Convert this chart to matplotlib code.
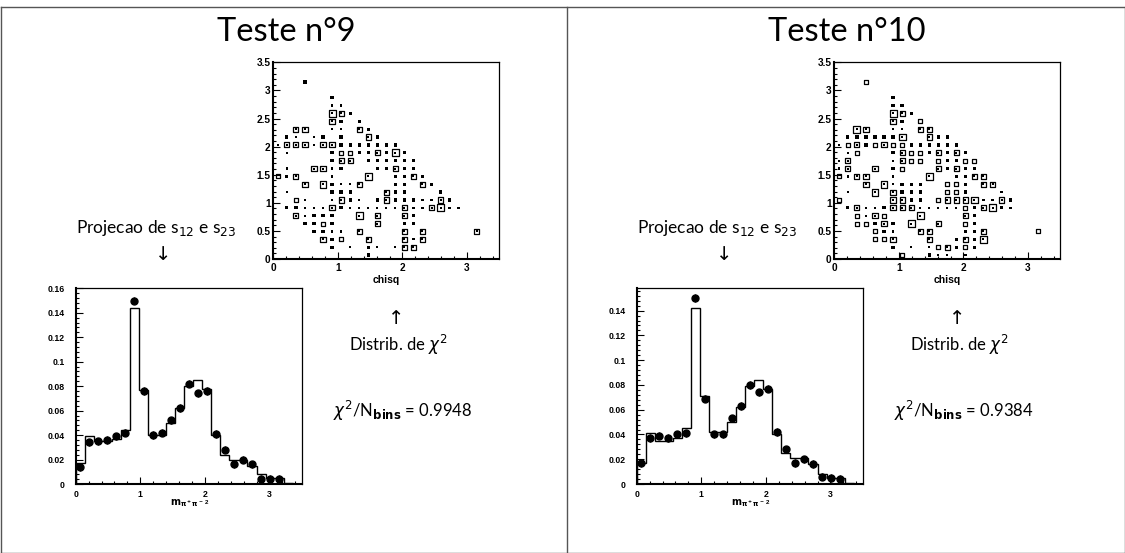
import numpy as np
import matplotlib
matplotlib.use("Agg")
import matplotlib.pyplot as plt
from matplotlib.lines import Line2D
from matplotlib.ticker import MultipleLocator, FormatStrFormatter

# Distribuicao em m^2(pi+ pi-): dados (pontos) e ajuste (histograma), 25 bins de 0 a 3.5
hist9_fit = [0.017, 0.039, 0.035, 0.035, 0.037, 0.044, 0.144, 0.077, 0.040, 0.040,
             0.050, 0.062, 0.080, 0.085, 0.078, 0.040, 0.024, 0.020, 0.020, 0.015,
             0.008, 0.005, 0.005, 0.001, 0.0]
hist9_data = [0.014, 0.034, 0.035, 0.036, 0.039, 0.042, 0.150, 0.076, 0.040, 0.042,
              0.052, 0.062, 0.082, 0.074, 0.076, 0.041, 0.028, 0.016, 0.020, 0.016,
              0.004, 0.004, 0.004]
hist10_fit = [0.017, 0.041, 0.035, 0.035, 0.037, 0.045, 0.142, 0.071, 0.042, 0.042,
              0.050, 0.062, 0.079, 0.084, 0.077, 0.040, 0.025, 0.021, 0.021, 0.016,
              0.008, 0.005, 0.005, 0.001, 0.0]
hist10_data = [0.017, 0.037, 0.039, 0.037, 0.040, 0.041, 0.150, 0.069, 0.040, 0.040,
               0.053, 0.063, 0.080, 0.074, 0.077, 0.042, 0.028, 0.017, 0.020, 0.016,
               0.006, 0.005, 0.004]

# Mapa (s12, s23): (coluna, linha, conteudo), bins de 0.14
box9 = [(3, 22, 2), (6, 20, 2), (6, 19, 1), (7, 19, 1),
        (6, 18, 9), (7, 18, 5), (8, 18, 2), (6, 17, 5), (7, 17, 2), (9, 17, 2),
        (2, 16, 5), (3, 16, 5), (6, 16, 1), (7, 16, 1), (9, 16, 5), (10, 16, 2),
        (1, 15, 2), (2, 15, 1), (4, 15, 1), (5, 15, 2), (7, 15, 2), (10, 15, 5), (11, 15, 2),
        (0, 14, 1), (1, 14, 5), (2, 14, 5), (3, 14, 5), (4, 14, 1), (5, 14, 5), (6, 14, 5),
        (7, 14, 2), (8, 14, 2), (9, 14, 2), (10, 14, 2), (11, 14, 2), (12, 14, 2), (13, 14, 2),
        (1, 13, 1), (6, 13, 2), (7, 13, 3), (8, 13, 3), (9, 13, 2), (10, 13, 2), (11, 13, 5),
        (12, 13, 2), (13, 13, 9), (14, 13, 2),
        (6, 12, 2), (7, 12, 5), (8, 12, 5), (10, 12, 2), (11, 12, 2), (12, 12, 2), (13, 12, 2),
        (14, 12, 2), (15, 12, 2),
        (1, 11, 1), (4, 11, 5), (5, 11, 5), (6, 11, 1), (7, 11, 2), (11, 11, 2), (12, 11, 2),
        (13, 11, 5), (14, 11, 2), (15, 11, 2),
        (0, 10, 3), (1, 10, 2), (2, 10, 5), (6, 10, 1), (10, 10, 9), (13, 10, 2), (14, 10, 2),
        (15, 10, 5), (16, 10, 2),
        (3, 9, 5), (5, 9, 9), (6, 9, 2), (7, 9, 1), (8, 9, 1), (9, 9, 5), (13, 9, 2), (14, 9, 2),
        (16, 9, 5), (17, 9, 2),
        (1, 8, 1), (6, 8, 2), (7, 8, 2), (8, 8, 2), (12, 8, 5), (13, 8, 2), (14, 8, 2), (18, 8, 2),
        (2, 7, 3), (3, 7, 1), (6, 7, 1), (7, 7, 5), (8, 7, 2), (9, 7, 1), (11, 7, 2), (12, 7, 5),
        (13, 7, 2), (14, 7, 2), (15, 7, 2), (16, 7, 1), (17, 7, 1), (18, 7, 5), (19, 7, 2),
        (1, 6, 2), (2, 6, 2), (3, 6, 1), (4, 6, 1), (5, 6, 1), (6, 6, 5), (7, 6, 2), (8, 6, 1),
        (9, 6, 1), (10, 6, 1), (11, 6, 1), (12, 6, 1), (13, 6, 1), (14, 6, 5), (15, 6, 1),
        (16, 6, 1), (17, 6, 5), (18, 6, 9), (19, 6, 1), (20, 6, 1),
        (2, 5, 5), (3, 5, 1), (4, 5, 2), (5, 5, 2), (6, 5, 2), (9, 5, 9), (11, 5, 5), (14, 5, 5),
        (15, 5, 2),
        (3, 4, 2), (4, 4, 2), (5, 4, 3), (6, 4, 2), (11, 4, 5), (14, 4, 1), (15, 4, 1),
        (4, 3, 2), (5, 3, 2), (6, 3, 1), (7, 3, 1), (9, 3, 5), (14, 3, 5), (16, 3, 5), (22, 3, 5),
        (5, 2, 5), (6, 2, 2), (7, 2, 3), (10, 2, 5), (14, 2, 5), (15, 2, 1), (16, 2, 5),
        (6, 1, 2), (8, 1, 1), (10, 1, 2), (11, 1, 1), (13, 1, 1), (14, 1, 5), (15, 1, 5),
        (10, 0, 2)]

box10 = [(3, 22, 3), (6, 20, 2), (6, 19, 2), (7, 19, 2),
         (6, 18, 9), (7, 18, 5), (8, 18, 2), (6, 17, 5), (7, 17, 2), (9, 17, 3),
         (2, 16, 9), (3, 16, 5), (6, 16, 1), (7, 16, 1), (9, 16, 5), (10, 16, 5),
         (1, 15, 2), (2, 15, 2), (3, 15, 2), (4, 15, 2), (5, 15, 2), (6, 15, 2), (7, 15, 9),
         (10, 15, 5), (11, 15, 2), (12, 15, 2),
         (0, 14, 1), (1, 14, 3), (2, 14, 5), (3, 14, 2), (4, 14, 3), (5, 14, 5), (6, 14, 3),
         (7, 14, 3), (8, 14, 2), (9, 14, 2), (10, 14, 2), (11, 14, 2), (12, 14, 2), (13, 14, 2),
         (1, 13, 1), (2, 13, 3), (6, 13, 2), (7, 13, 5), (8, 13, 3), (9, 13, 3), (10, 13, 2),
         (11, 13, 5), (12, 13, 2), (13, 13, 5), (14, 13, 2),
         (0, 12, 1), (1, 12, 5), (6, 12, 1), (7, 12, 5), (8, 12, 3), (9, 12, 3), (11, 12, 3),
         (12, 12, 2), (13, 12, 2), (14, 12, 3), (15, 12, 3),
         (0, 11, 1), (1, 11, 5), (4, 11, 5), (6, 11, 2), (7, 11, 3), (11, 11, 5), (12, 11, 2),
         (13, 11, 5), (14, 11, 2), (15, 11, 1),
         (0, 10, 3), (1, 10, 1), (2, 10, 5), (3, 10, 5), (6, 10, 1), (10, 10, 9), (13, 10, 2),
         (14, 10, 2), (15, 10, 5), (16, 10, 5),
         (3, 9, 5), (5, 9, 9), (6, 9, 1), (7, 9, 2), (8, 9, 2), (9, 9, 2), (12, 9, 3), (13, 9, 3),
         (14, 9, 2), (16, 9, 5), (17, 9, 5),
         (1, 8, 1), (4, 8, 9), (6, 8, 5), (7, 8, 2), (8, 8, 2), (9, 8, 2), (12, 8, 3), (13, 8, 3),
         (14, 8, 2), (18, 8, 1),
         (0, 7, 3), (6, 7, 5), (7, 7, 5), (8, 7, 2), (9, 7, 2), (11, 7, 3), (12, 7, 5), (13, 7, 5),
         (14, 7, 5), (15, 7, 9), (16, 7, 1), (17, 7, 1), (18, 7, 5), (19, 7, 2),
         (1, 6, 2), (2, 6, 5), (3, 6, 1), (4, 6, 1), (5, 6, 2), (6, 6, 5), (7, 6, 5), (8, 6, 5),
         (9, 6, 1), (10, 6, 1), (11, 6, 1), (12, 6, 1), (13, 6, 1), (14, 6, 3), (15, 6, 2),
         (16, 6, 5), (17, 6, 9), (18, 6, 2), (19, 6, 1),
         (2, 5, 3), (3, 5, 1), (4, 5, 5), (5, 5, 3), (9, 5, 9), (14, 5, 5), (15, 5, 2),
         (2, 4, 3), (3, 4, 3), (4, 4, 2), (5, 4, 5), (6, 4, 2), (8, 4, 9), (11, 4, 5), (14, 4, 3),
         (15, 4, 1),
         (4, 3, 3), (5, 3, 2), (6, 3, 1), (9, 3, 5), (10, 3, 5), (14, 3, 2), (15, 3, 2), (16, 3, 5),
         (22, 3, 3),
         (4, 2, 3), (5, 2, 3), (6, 2, 5), (10, 2, 5), (13, 2, 2), (14, 2, 5), (15, 2, 2), (16, 2, 9),
         (6, 1, 2), (8, 1, 1), (10, 1, 1), (11, 1, 3), (12, 1, 5), (13, 1, 2), (14, 1, 3), (15, 1, 2),
         (7, 0, 3), (10, 0, 2), (11, 0, 1), (12, 0, 1), (14, 0, 1)]

box_bin = 0.14
chi2_9 = "0.9948"
chi2_10 = "0.9384"

W, H = 1125, 553
fig = plt.figure(figsize=(W / 100, H / 100), dpi=100)

text_font = ['Lato', 'DejaVu Sans']
tick_family = 'Liberation Sans'


def px(x, y):
    return x / W, 1 - y / H


def paw_axes(ax, size, ypad, xpad):
    for s in ax.spines.values():
        s.set_linewidth(0.9)
    ax.spines['left'].set_linewidth(1.5)
    ax.spines['bottom'].set_linewidth(1.5)
    ax.tick_params(which='both', direction='in', top=False, right=False, width=0.8)
    ax.tick_params(axis='x', pad=xpad)
    ax.tick_params(axis='y', pad=ypad)
    ax.tick_params(which='major', length=5)
    ax.tick_params(which='minor', length=2.5)
    for lab in ax.get_xticklabels() + ax.get_yticklabels():
        lab.set_family(tick_family)
        lab.set_weight('bold')
        lab.set_size(size)


def draw_box(ax, cells):
    ci = np.array([c[0] for c in cells])
    cj = np.array([c[1] for c in cells])
    n = np.array([c[2] for c in cells], dtype=float)
    x = (ci + 0.5) * box_bin
    y = (cj + 0.5) * box_bin
    side = 2.3 * np.sqrt(n) * 0.72  # lado da caixa em pontos
    small = n < 3
    ax.scatter(x[small], y[small], s=side[small] ** 2, marker='s', c='black', lw=0)
    ax.scatter(x[~small], y[~small], s=side[~small] ** 2, marker='s', facecolors='none',
               edgecolors='black', lw=0.9)
    big = n >= 5
    ax.scatter(x[big], y[big], s=2.5, marker='s', c='black', lw=0)
    ax.set_xlim(0, 3.5)
    ax.set_ylim(0, 3.5)
    ax.set_xticks([0, 1, 2, 3])
    ax.xaxis.set_minor_locator(MultipleLocator(0.2))
    ax.yaxis.set_major_locator(MultipleLocator(0.5))
    ax.yaxis.set_minor_locator(MultipleLocator(0.1))
    ax.xaxis.set_major_formatter(FormatStrFormatter('%g'))
    ax.yaxis.set_major_formatter(FormatStrFormatter('%g'))
    paw_axes(ax, 7.3, 2, 3)
    ax.set_xlabel('chisq', family=tick_family, weight='bold', size=7.5, labelpad=1)


def draw_hist(ax, fit, data, ymax):
    edges = np.linspace(0, 3.5, len(fit) + 1)
    centres = 0.5 * (edges[:-1] + edges[1:])
    ax.stairs(fit, edges, color='black', lw=1.0)
    xd = centres[:len(data)]
    ax.errorbar(xd, data, yerr=0.003, fmt='o', color='black', ms=5, elinewidth=0.8, capsize=0)
    ax.set_xlim(0, 3.5)
    ax.set_ylim(0, ymax)
    ax.xaxis.set_major_locator(MultipleLocator(1))
    ax.xaxis.set_minor_locator(MultipleLocator(0.2))
    ax.yaxis.set_major_locator(MultipleLocator(0.02))
    ax.yaxis.set_minor_locator(MultipleLocator(0.004))
    ax.xaxis.set_major_formatter(FormatStrFormatter('%g'))
    ax.yaxis.set_major_formatter(FormatStrFormatter('%g'))
    paw_axes(ax, 6.3, 8, 4)
    # rotulo do eixo x: m^2 (pi+ pi-), com o expoente logo abaixo do "2"
    ax.annotate(r'$\mathbf{m_{\pi^+\pi^-}}$', xy=(1.72, 0), xycoords=('data', 'axes fraction'),
                xytext=(0, -14), textcoords='offset points', fontsize=7, ha='center', va='center')
    ax.annotate('2', xy=(2.0, 0), xycoords=('data', 'axes fraction'),
                xytext=(1.5, -13.5), textcoords='offset points', family=tick_family,
                weight='bold', fontsize=4.5, ha='center', va='center')


panels = [("Teste n°9", box9, hist9_fit, hist9_data, 0.16, chi2_9),
          ("Teste n°10", box10, hist10_fit, hist10_data, 0.158, chi2_10)]

for k, (title, cells, fit, data, ymax, chi2) in enumerate(panels):
    dx = 561 * k
    axb = fig.add_axes([(273.3 + dx) / W, 1 - 259 / H, 226 / W, 196.7 / H])
    draw_box(axb, cells)
    axh = fig.add_axes([(75.7 + dx) / W, 1 - 484 / H, 226 / W, 195.7 / H])
    draw_hist(axh, fit, data, ymax)

    fig.text(*px(286 + dx, 32), title, family=text_font, fontsize=23.5, ha='center', va='center')
    fig.text(*px(156 + dx, 228), r'Projecao de s$_{12}$ e s$_{23}$', family=text_font,
             fontsize=12.5, ha='center', va='center')
    fig.text(*px(163 + dx, 255), '↓', family=['DejaVu Sans'], fontsize=14, ha='center', va='center')
    fig.text(*px(396 + dx, 318), '↑', family=['DejaVu Sans'], fontsize=14, ha='center', va='center')
    fig.text(*px(398 + dx, 345), r'Distrib. de $\chi^2$', family=text_font, fontsize=12,
             ha='center', va='center')
    fig.text(*px(403 + dx, 411), r'$\chi^2$/N$_{\mathbf{bins}}$ = ' + chi2, family=text_font,
             fontsize=12, ha='center', va='center')

# moldura e divisoria
lines = [([0.5, W - 0.5], [7, 7]), ([0.5, W - 0.5], [H - 0.5, H - 0.5]),
         ([0.5, 0.5], [7, H - 0.5]), ([W - 0.5, W - 0.5], [7, H - 0.5]),
         ([567, 567], [7, H - 0.5])]
for xs, ys in lines:
    fig.add_artist(Line2D([x / W for x in xs], [1 - y / H for y in ys],
                          color='#555555', lw=1.0))

fig.savefig('out.png', dpi=100)
